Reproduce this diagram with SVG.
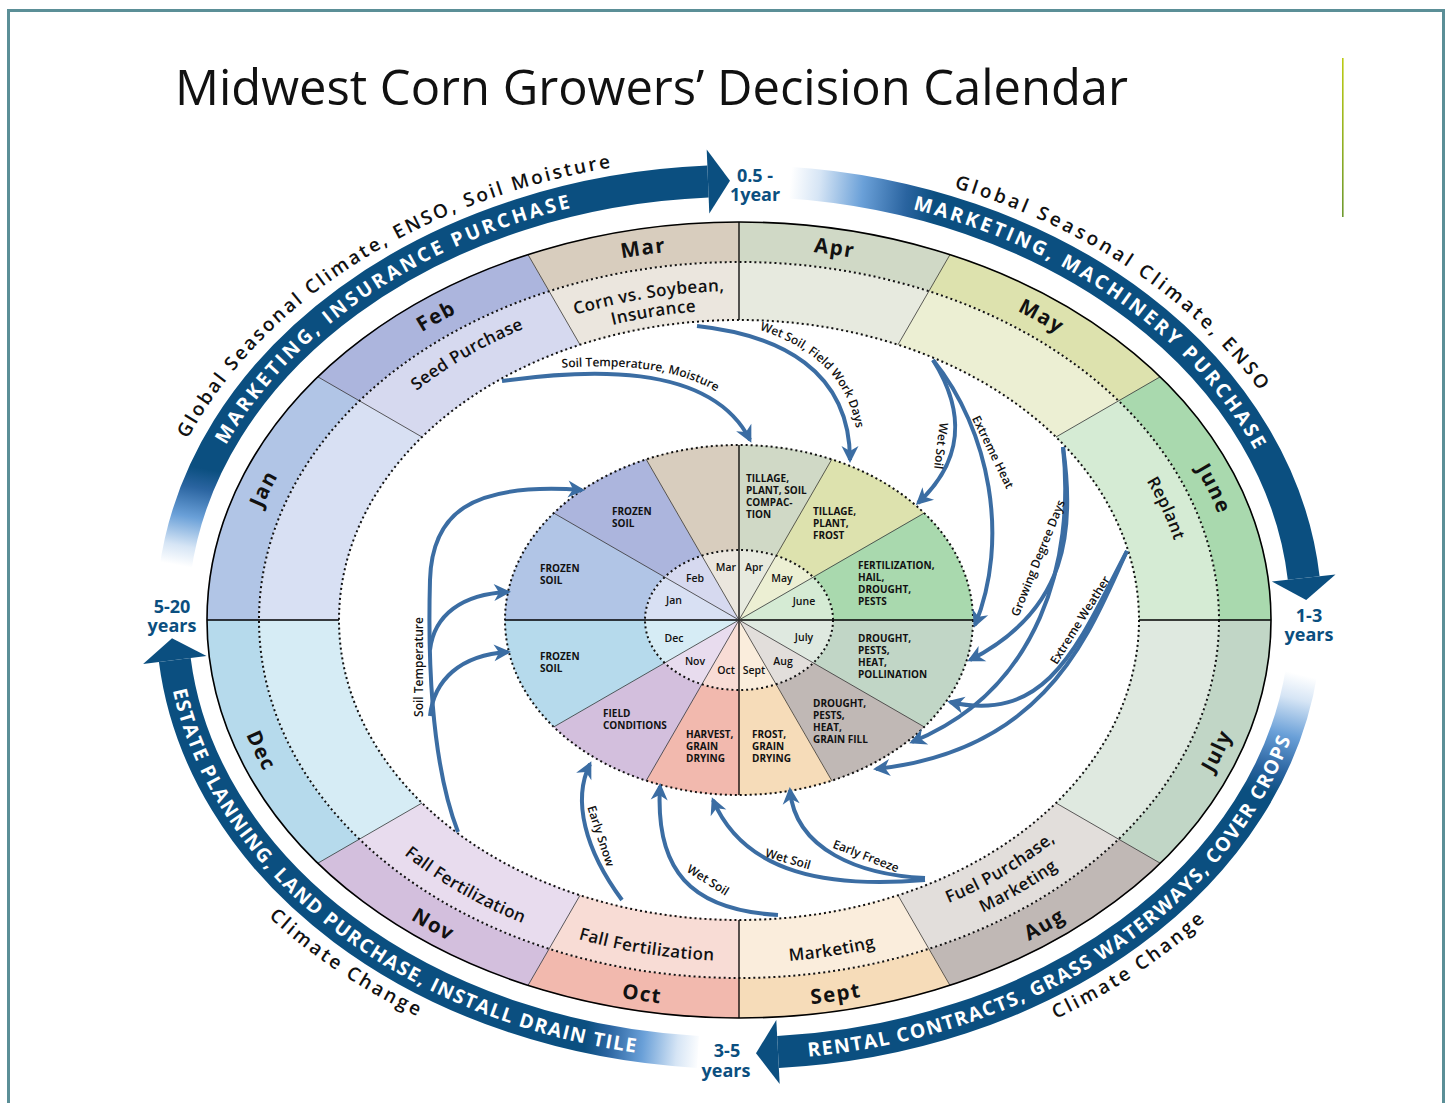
<svg xmlns="http://www.w3.org/2000/svg" width="1449" height="1103" viewBox="0 0 1449 1103">
<defs>
<style>
.t{font-family:"Open Sans","Noto Sans","DejaVu Sans",sans-serif}
.mh{font-size:20.5px;font-weight:700;letter-spacing:1.5px;fill:#111}
.lb{font-size:17px;font-weight:600;letter-spacing:.4px;fill:#111}
.sg{font-size:10px;font-weight:700;fill:#111}
.cm{font-size:10.5px;font-weight:600;fill:#111;text-anchor:middle}
.cl{font-size:12px;font-weight:600;fill:#111}
.bw{font-size:19.5px;font-weight:700;fill:#fff;letter-spacing:2px}
.bk{font-size:19px;font-weight:600;fill:#111;letter-spacing:2.5px}
.yr{font-size:18px;font-weight:700;fill:#0b4f80;text-anchor:middle}
.cn{fill:none;stroke:#3b6da3;stroke-width:4;marker-end:url(#ah)}
.band{fill:none;stroke-width:32}
.ahd{fill:#0b4f80}
.dot{fill:none;stroke:#111;stroke-width:2;stroke-dasharray:2 3}
.rl{stroke:#333;stroke-width:.8}
.rk{stroke:#000;stroke-width:1.3}
path.s{stroke-width:.6}
.h-mar{fill:#d8cdbe;stroke:#d8cdbe}.l-mar{fill:#ebe6de;stroke:#ebe6de}
.h-apr{fill:#d0d9c6;stroke:#d0d9c6}.l-apr{fill:#e7eadf;stroke:#e7eadf}
.h-may{fill:#dde2ae;stroke:#dde2ae}.l-may{fill:#ecefd3;stroke:#ecefd3}
.h-jun{fill:#a9d9ae;stroke:#a9d9ae}.l-jun{fill:#d5ebd4;stroke:#d5ebd4}
.h-jul{fill:#c1d6c6;stroke:#c1d6c6}.l-jul{fill:#dfe9e0;stroke:#dfe9e0}
.h-aug{fill:#c0b8b5;stroke:#c0b8b5}.l-aug{fill:#e2dedb;stroke:#e2dedb}
.h-sep{fill:#f6dcb9;stroke:#f6dcb9}.l-sep{fill:#faeddc;stroke:#faeddc}
.h-oct{fill:#f2b9ae;stroke:#f2b9ae}.l-oct{fill:#f8dcd5;stroke:#f8dcd5}
.h-nov{fill:#d3bfdd;stroke:#d3bfdd}.l-nov{fill:#e8dcee;stroke:#e8dcee}
.h-dec{fill:#b6daec;stroke:#b6daec}.l-dec{fill:#d6ecf5;stroke:#d6ecf5}
.h-jan{fill:#b1c5e6;stroke:#b1c5e6}.l-jan{fill:#d8e0f3;stroke:#d8e0f3}
.h-feb{fill:#acb5dd;stroke:#acb5dd}.l-feb{fill:#d6d9ef;stroke:#d6d9ef}
</style>
<marker id="ah" viewBox="-15 -9 19 18" markerWidth="19" markerHeight="18" refX="0" refY="0" orient="auto" markerUnits="userSpaceOnUse">
<path d="M3,0 L-14,-8.5 L-9,0 L-14,8.5 Z" fill="#3b6da3"/>
</marker>
<linearGradient id="vg" gradientUnits="userSpaceOnUse" x1="0" y1="58" x2="0" y2="217"><stop offset="0" stop-color="#bccb14"/><stop offset="1" stop-color="#6e9930"/></linearGradient>
<linearGradient id="g1" gradientUnits="userSpaceOnUse" x1="182" y1="566" x2="200" y2="468"><stop offset="0" stop-color="#fff"/><stop offset=".2" stop-color="#d6e5f5"/><stop offset=".5" stop-color="#6aa0d8"/><stop offset=".8" stop-color="#2a64a0"/><stop offset="1" stop-color="#0b4f80"/></linearGradient>
<linearGradient id="g2" gradientUnits="userSpaceOnUse" x1="790" y1="185" x2="935" y2="200"><stop offset="0" stop-color="#fff"/><stop offset=".2" stop-color="#d6e5f5"/><stop offset=".5" stop-color="#6aa0d8"/><stop offset=".8" stop-color="#2a64a0"/><stop offset="1" stop-color="#0b4f80"/></linearGradient>
<linearGradient id="g3" gradientUnits="userSpaceOnUse" x1="1302" y1="675" x2="1272" y2="795"><stop offset="0" stop-color="#fff"/><stop offset=".2" stop-color="#d6e5f5"/><stop offset=".5" stop-color="#6aa0d8"/><stop offset=".8" stop-color="#2a64a0"/><stop offset="1" stop-color="#0b4f80"/></linearGradient>
<linearGradient id="g4" gradientUnits="userSpaceOnUse" x1="700" y1="1052" x2="585" y2="1042"><stop offset="0" stop-color="#fff"/><stop offset=".2" stop-color="#d6e5f5"/><stop offset=".5" stop-color="#6aa0d8"/><stop offset=".8" stop-color="#2a64a0"/><stop offset="1" stop-color="#0b4f80"/></linearGradient>
<!-- month header label paths -->
<path id="hp-mar" d="M559.8,272.7 A500,372 0 0 1 730.3,248.1"/>
<path id="hp-apr" d="M747.7,248.1 A500,372 0 0 1 918.2,272.7"/>
<path id="hp-may" d="M966,288.5 A500,372 0 0 1 1104.7,366.3"/>
<path id="hp-jun" d="M1172,434 A500,372 0 0 1 1231.4,555.4"/>
<path id="hp-feb" d="M373.3,366.3 A500,372 0 0 1 512,288.5"/>
<path id="hp-jan" d="M246.6,555.4 A500,372 0 0 1 306,434"/>
<path id="hp-sep" d="M748,1007.9 A516,388 0 0 0 923.9,982.2"/>
<path id="hp-oct" d="M554.1,982.2 A516,388 0 0 0 730,1007.9"/>
<path id="hp-aug" d="M973.3,965.7 A516,388 0 0 0 1116.4,884.6"/>
<path id="hp-jul" d="M1185.9,814 A516,388 0 0 0 1247.2,687.4"/>
<path id="hp-nov" d="M361.6,884.6 A516,388 0 0 0 504.7,965.7"/>
<path id="hp-dec" d="M230.8,687.4 A516,388 0 0 0 292.1,814"/>
<!-- light band label paths -->
<path id="lp-mar1" d="M547,324.3 A438,329 0 0 1 754.3,291.2"/>
<path id="lp-mar2" d="M557.9,341.4 A413,310 0 0 1 753.4,310.2"/>
<path id="lp-feb" d="M389.1,415 A444,333 0 0 1 558.4,315.8"/>
<path id="lp-jun" d="M1130.8,458.1 A448,334 0 0 1 1181.5,567.8"/>
<path id="lp-nov" d="M363.8,817.3 A458,344 0 0 0 574.9,941.2"/>
<path id="lp-oct" d="M539.5,926.5 A455,341 0 0 0 754.9,960.8"/>
<path id="lp-sep" d="M723,962.8 A457,343 0 0 0 939.3,928.3"/>
<path id="lp-aug1" d="M900.8,920.4 A432,324 0 0 0 1092.9,805.8"/>
<path id="lp-aug2" d="M911.3,939.9 A460,345 0 0 0 1115.8,817.9"/>
<!-- outer band text paths -->
<path id="bp-t1" d="M191.3,527.8 A560,429 0 0 1 661.1,192.2"/>
<path id="bp-t2" d="M150.1,537.1 A598,460 0 0 1 718.1,157.3"/>
<path id="bp-t3" d="M816.9,192.2 A560,429 0 0 1 1290.5,542.5"/>
<path id="bp-t4" d="M780.7,158.1 A598,460 0 0 1 1331.2,553"/>
<path id="bp-t5" d="M709,1059.4 A574,443 0 0 0 1312.2,640.2"/>
<path id="bp-t6" d="M168.4,665.6 A574,443 0 0 0 662.1,1056"/>
<path id="bp-cc1" d="M165.6,779.3 A611,470 0 0 0 582.9,1071.3"/>
<path id="bp-cc2" d="M886.8,1073 A611,470 0 0 0 1313.2,777.7"/>
<!-- connector label paths -->
<path id="lbl1" d="M505,374 C583,363 712,352 756,432"/>
<path id="lbl2" d="M700,318 C786,327 858,364 858,452"/>
</defs>

<rect x="0" y="0" width="1449" height="1103" fill="#fff"/>
<rect x="8.5" y="10.5" width="1435" height="1110" fill="none" stroke="#5b8f97" stroke-width="3"/>
<rect x="1342" y="58" width="1.6" height="159" fill="url(#vg)"/>
<text class="t" x="175" y="105" font-size="50" textLength="953" lengthAdjust="spacingAndGlyphs" fill="#111">Midwest Corn Growers’ Decision Calendar</text>

<!-- outer time-horizon arrows -->
<g id="horizon-0-5-1yr">
<path class="band" stroke="url(#g1)" d="M175.1,571.4 A567,436 0 0 1 708,181.6"/>
<polygon class="ahd" points="706.7,149.6 730,180.7 709.3,213.6"/>
<text class="t bw"><textPath href="#bp-t1" startOffset="50%" text-anchor="middle" textLength="432" lengthAdjust="spacing">MARKETING, INSURANCE PURCHASE</textPath></text>
<text class="t bk"><textPath href="#bp-t2" startOffset="50%" text-anchor="middle" textLength="522" lengthAdjust="spacing">Global Seasonal Climate, ENSO, Soil Moisture</textPath></text>
<text class="t yr" x="755" y="182">0.5 -</text>
<text class="t yr" x="755" y="201">1year</text>
</g>
<g id="horizon-1-3yr">
<path class="band" stroke="url(#g2)" d="M785,182.4 A567,436 0 0 1 1303.7,578"/>
<polygon class="ahd" points="1271.9,581.6 1335.5,574.4 1306.2,600"/>
<text class="t bw"><textPath href="#bp-t3" startOffset="50%" text-anchor="middle" textLength="432" lengthAdjust="spacing">MARKETING, MACHINERY PURCHASE</textPath></text>
<text class="t bk"><textPath href="#bp-t4" startOffset="50%" text-anchor="middle" textLength="376" lengthAdjust="spacing">Global Seasonal Climate, ENSO</textPath></text>
<text class="t yr" x="1309" y="622">1-3</text>
<text class="t yr" x="1309" y="641">years</text>
</g>
<g id="horizon-3-5yr">
<path class="band" stroke="url(#g3)" d="M1301.8,670.1 A567,436 0 0 1 778,1052"/>
<polygon class="ahd" points="776.3,1020 756,1053.2 779.7,1084"/>
<text class="t bw"><textPath href="#bp-t5" startOffset="50%" text-anchor="middle" textLength="610" lengthAdjust="spacing">RENTAL CONTRACTS, GRASS WATERWAYS, COVER CROPS</textPath></text>
<text class="t bk"><textPath href="#bp-cc2" startOffset="50%" text-anchor="middle" textLength="182" lengthAdjust="spacing">Climate Change</textPath></text>
<text class="t yr" x="727" y="1057">3-5</text>
<text class="t yr" x="726" y="1077">years</text>
</g>
<g id="horizon-5-20yr">
<path class="band" stroke="url(#g4)" d="M698,1051.9 A567,436 0 0 1 174.8,660"/>
<polygon class="ahd" points="143.1,664.1 172,638.2 206.5,655.9"/>
<text class="t bw"><textPath href="#bp-t6" startOffset="50%" text-anchor="middle" textLength="626" lengthAdjust="spacing">ESTATE PLANNING, LAND PURCHASE, INSTALL DRAIN TILE</textPath></text>
<text class="t bk"><textPath href="#bp-cc1" startOffset="50%" text-anchor="middle" textLength="182" lengthAdjust="spacing">Climate Change</textPath></text>
<text class="t yr" x="172" y="613">5-20</text>
<text class="t yr" x="172" y="632">years</text>
</g>

<!-- months -->
<g id="month-apr">
<path class="s h-apr" d="M739,222 A532,398 0 0 1 950,254.6 L928.9,291.2 A480,358 0 0 0 739,262 Z"/>
<path class="s l-apr" d="M739,262 A480,358 0 0 1 928.9,291.2 L898,344.7 A400,300 0 0 0 739,320 Z"/>
<path class="s h-apr" d="M739,445 A234,175 0 0 1 831.8,459.3 L776.1,555.7 A94,70 0 0 0 739,550 Z"/>
<path class="s l-apr" d="M739,620 L739,550 A94,70 0 0 1 776.1,555.7 Z"/>
<text class="t mh"><textPath href="#hp-apr" startOffset="50%" text-anchor="middle">Apr</textPath></text>
<text class="t sg" x="746"><tspan x="746" y="482">TILLAGE,</tspan><tspan x="746" y="494">PLANT, SOIL</tspan><tspan x="746" y="506">COMPAC-</tspan><tspan x="746" y="518">TION</tspan></text>
<text class="t cm" x="754" y="571">Apr</text>
</g>
<g id="month-may">
<path class="s h-may" d="M950,254.6 A532,398 0 0 1 1160.2,376.8 L1118.6,400.9 A480,358 0 0 0 928.9,291.2 Z"/>
<path class="s l-may" d="M928.9,291.2 A480,358 0 0 1 1118.6,400.9 L1056,437 A400,300 0 0 0 898,344.7 Z"/>
<path class="s h-may" d="M831.8,459.3 A234,175 0 0 1 924.2,513.1 L813.3,577.1 A94,70 0 0 0 776.1,555.7 Z"/>
<path class="s l-may" d="M739,620 L776.1,555.7 A94,70 0 0 1 813.3,577.1 Z"/>
<text class="t mh"><textPath href="#hp-may" startOffset="50%" text-anchor="middle">May</textPath></text>
<text class="t sg"><tspan x="813" y="515">TILLAGE,</tspan><tspan x="813" y="527">PLANT,</tspan><tspan x="813" y="539">FROST</tspan></text>
<text class="t cm" x="782" y="582">May</text>
</g>
<g id="month-jun">
<path class="s h-jun" d="M1160.2,376.8 A532,398 0 0 1 1271,620 L1219,620 A480,358 0 0 0 1118.6,400.9 Z"/>
<path class="s l-jun" d="M1118.6,400.9 A480,358 0 0 1 1219,620 L1139,620 A400,300 0 0 0 1056,437 Z"/>
<path class="s h-jun" d="M924.2,513.1 A234,175 0 0 1 973,620 L833,620 A94,70 0 0 0 813.3,577.1 Z"/>
<path class="s l-jun" d="M739,620 L813.3,577.1 A94,70 0 0 1 833,620 Z"/>
<text class="t mh"><textPath href="#hp-jun" startOffset="50%" text-anchor="middle">June</textPath></text>
<text class="t lb"><textPath href="#lp-jun" startOffset="50%" text-anchor="middle">Replant</textPath></text>
<text class="t sg"><tspan x="858" y="569">FERTILIZATION,</tspan><tspan x="858" y="581">HAIL,</tspan><tspan x="858" y="593">DROUGHT,</tspan><tspan x="858" y="605">PESTS</tspan></text>
<text class="t cm" x="804" y="605">June</text>
</g>
<g id="month-jul">
<path class="s h-jul" d="M1271,620 A532,398 0 0 1 1160.2,863.2 L1118.6,839.2 A480,358 0 0 0 1219,620 Z"/>
<path class="s l-jul" d="M1219,620 A480,358 0 0 1 1118.6,839.2 L1056,803 A400,300 0 0 0 1139,620 Z"/>
<path class="s h-jul" d="M973,620 A234,175 0 0 1 924.2,726.9 L813.3,662.9 A94,70 0 0 0 833,620 Z"/>
<path class="s l-jul" d="M739,620 L833,620 A94,70 0 0 1 813.3,662.9 Z"/>
<text class="t mh"><textPath href="#hp-jul" startOffset="50%" text-anchor="middle">July</textPath></text>
<text class="t sg"><tspan x="858" y="642">DROUGHT,</tspan><tspan x="858" y="654">PESTS,</tspan><tspan x="858" y="666">HEAT,</tspan><tspan x="858" y="678">POLLINATION</tspan></text>
<text class="t cm" x="804" y="641">July</text>
</g>
<g id="month-aug">
<path class="s h-aug" d="M1160.2,863.2 A532,398 0 0 1 950,985.4 L928.9,948.8 A480,358 0 0 0 1118.6,839.2 Z"/>
<path class="s l-aug" d="M1118.6,839.2 A480,358 0 0 1 928.9,948.8 L898,895.3 A400,300 0 0 0 1056,803 Z"/>
<path class="s h-aug" d="M924.2,726.9 A234,175 0 0 1 831.8,780.7 L776.1,684.3 A94,70 0 0 0 813.3,662.9 Z"/>
<path class="s l-aug" d="M739,620 L813.3,662.9 A94,70 0 0 1 776.1,684.3 Z"/>
<text class="t mh"><textPath href="#hp-aug" startOffset="50%" text-anchor="middle">Aug</textPath></text>
<text class="t lb"><textPath href="#lp-aug1" startOffset="50%" text-anchor="middle">Fuel Purchase,</textPath></text>
<text class="t lb"><textPath href="#lp-aug2" startOffset="50%" text-anchor="middle">Marketing</textPath></text>
<text class="t sg"><tspan x="813" y="707">DROUGHT,</tspan><tspan x="813" y="719">PESTS,</tspan><tspan x="813" y="731">HEAT,</tspan><tspan x="813" y="743">GRAIN FILL</tspan></text>
<text class="t cm" x="783" y="665">Aug</text>
</g>
<g id="month-sep">
<path class="s h-sep" d="M950,985.4 A532,398 0 0 1 739,1018 L739,978 A480,358 0 0 0 928.9,948.8 Z"/>
<path class="s l-sep" d="M928.9,948.8 A480,358 0 0 1 739,978 L739,920 A400,300 0 0 0 898,895.3 Z"/>
<path class="s h-sep" d="M831.8,780.7 A234,175 0 0 1 739,795 L739,690 A94,70 0 0 0 776.1,684.3 Z"/>
<path class="s l-sep" d="M739,620 L776.1,684.3 A94,70 0 0 1 739,690 Z"/>
<text class="t mh"><textPath href="#hp-sep" startOffset="50%" text-anchor="middle">Sept</textPath></text>
<text class="t lb"><textPath href="#lp-sep" startOffset="50%" text-anchor="middle">Marketing</textPath></text>
<text class="t sg"><tspan x="752" y="738">FROST,</tspan><tspan x="752" y="750">GRAIN</tspan><tspan x="752" y="762">DRYING</tspan></text>
<text class="t cm" x="754" y="674">Sept</text>
</g>
<g id="month-oct">
<path class="s h-oct" d="M739,1018 A532,398 0 0 1 528,985.4 L549.1,948.8 A480,358 0 0 0 739,978 Z"/>
<path class="s l-oct" d="M739,978 A480,358 0 0 1 549.1,948.8 L580,895.3 A400,300 0 0 0 739,920 Z"/>
<path class="s h-oct" d="M739,795 A234,175 0 0 1 646.2,780.7 L701.9,684.3 A94,70 0 0 0 739,690 Z"/>
<path class="s l-oct" d="M739,620 L739,690 A94,70 0 0 1 701.9,684.3 Z"/>
<text class="t mh"><textPath href="#hp-oct" startOffset="50%" text-anchor="middle">Oct</textPath></text>
<text class="t lb"><textPath href="#lp-oct" startOffset="50%" text-anchor="middle">Fall Fertilization</textPath></text>
<text class="t sg"><tspan x="686" y="738">HARVEST,</tspan><tspan x="686" y="750">GRAIN</tspan><tspan x="686" y="762">DRYING</tspan></text>
<text class="t cm" x="726" y="674">Oct</text>
</g>
<g id="month-nov">
<path class="s h-nov" d="M528,985.4 A532,398 0 0 1 317.8,863.2 L359.4,839.2 A480,358 0 0 0 549.1,948.8 Z"/>
<path class="s l-nov" d="M549.1,948.8 A480,358 0 0 1 359.4,839.2 L422,803 A400,300 0 0 0 580,895.3 Z"/>
<path class="s h-nov" d="M646.2,780.7 A234,175 0 0 1 553.8,726.9 L664.7,662.9 A94,70 0 0 0 701.9,684.3 Z"/>
<path class="s l-nov" d="M739,620 L701.9,684.3 A94,70 0 0 1 664.7,662.9 Z"/>
<text class="t mh"><textPath href="#hp-nov" startOffset="50%" text-anchor="middle">Nov</textPath></text>
<text class="t lb"><textPath href="#lp-nov" startOffset="50%" text-anchor="middle">Fall Fertilization</textPath></text>
<text class="t sg"><tspan x="603" y="717">FIELD</tspan><tspan x="603" y="729">CONDITIONS</tspan></text>
<text class="t cm" x="695" y="665">Nov</text>
</g>
<g id="month-dec">
<path class="s h-dec" d="M317.8,863.2 A532,398 0 0 1 207,620 L259,620 A480,358 0 0 0 359.4,839.2 Z"/>
<path class="s l-dec" d="M359.4,839.2 A480,358 0 0 1 259,620 L339,620 A400,300 0 0 0 422,803 Z"/>
<path class="s h-dec" d="M553.8,726.9 A234,175 0 0 1 505,620 L645,620 A94,70 0 0 0 664.7,662.9 Z"/>
<path class="s l-dec" d="M739,620 L664.7,662.9 A94,70 0 0 1 645,620 Z"/>
<text class="t mh"><textPath href="#hp-dec" startOffset="50%" text-anchor="middle">Dec</textPath></text>
<text class="t sg"><tspan x="540" y="660">FROZEN</tspan><tspan x="540" y="672">SOIL</tspan></text>
<text class="t cm" x="674" y="642">Dec</text>
</g>
<g id="month-jan">
<path class="s h-jan" d="M207,620 A532,398 0 0 1 317.8,376.8 L359.4,400.9 A480,358 0 0 0 259,620 Z"/>
<path class="s l-jan" d="M259,620 A480,358 0 0 1 359.4,400.9 L422,437 A400,300 0 0 0 339,620 Z"/>
<path class="s h-jan" d="M505,620 A234,175 0 0 1 553.8,513.1 L664.7,577.1 A94,70 0 0 0 645,620 Z"/>
<path class="s l-jan" d="M739,620 L645,620 A94,70 0 0 1 664.7,577.1 Z"/>
<text class="t mh"><textPath href="#hp-jan" startOffset="50%" text-anchor="middle">Jan</textPath></text>
<text class="t sg"><tspan x="540" y="572">FROZEN</tspan><tspan x="540" y="584">SOIL</tspan></text>
<text class="t cm" x="674" y="604">Jan</text>
</g>
<g id="month-feb">
<path class="s h-feb" d="M317.8,376.8 A532,398 0 0 1 528,254.6 L549.1,291.2 A480,358 0 0 0 359.4,400.9 Z"/>
<path class="s l-feb" d="M359.4,400.9 A480,358 0 0 1 549.1,291.2 L580,344.7 A400,300 0 0 0 422,437 Z"/>
<path class="s h-feb" d="M553.8,513.1 A234,175 0 0 1 646.2,459.3 L701.9,555.7 A94,70 0 0 0 664.7,577.1 Z"/>
<path class="s l-feb" d="M739,620 L664.7,577.1 A94,70 0 0 1 701.9,555.7 Z"/>
<text class="t mh"><textPath href="#hp-feb" startOffset="50%" text-anchor="middle">Feb</textPath></text>
<text class="t lb"><textPath href="#lp-feb" startOffset="50%" text-anchor="middle">Seed Purchase</textPath></text>
<text class="t sg"><tspan x="612" y="515">FROZEN</tspan><tspan x="612" y="527">SOIL</tspan></text>
<text class="t cm" x="695" y="582">Feb</text>
</g>
<g id="month-mar">
<path class="s h-mar" d="M528,254.6 A532,398 0 0 1 739,222 L739,262 A480,358 0 0 0 549.1,291.2 Z"/>
<path class="s l-mar" d="M549.1,291.2 A480,358 0 0 1 739,262 L739,320 A400,300 0 0 0 580,344.7 Z"/>
<path class="s h-mar" d="M646.2,459.3 A234,175 0 0 1 739,445 L739,550 A94,70 0 0 0 701.9,555.7 Z"/>
<path class="s l-mar" d="M739,620 L701.9,555.7 A94,70 0 0 1 739,550 Z"/>
<text class="t mh"><textPath href="#hp-mar" startOffset="50%" text-anchor="middle">Mar</textPath></text>
<text class="t lb"><textPath href="#lp-mar1" startOffset="50%" text-anchor="middle">Corn vs. Soybean,</textPath></text>
<text class="t lb"><textPath href="#lp-mar2" startOffset="50%" text-anchor="middle">Insurance</textPath></text>
<text class="t cm" x="726" y="571">Mar</text>
</g>

<!-- ring grid -->
<g id="grid">
<line class="rk" x1="739" y1="320" x2="739" y2="222"/>
<line class="rl" x1="898" y1="344.7" x2="950" y2="254.6"/>
<line class="rl" x1="1056" y1="437" x2="1160.2" y2="376.8"/>
<line class="rk" x1="1139" y1="620" x2="1271" y2="620"/>
<line class="rl" x1="1056" y1="803" x2="1160.2" y2="863.2"/>
<line class="rl" x1="898" y1="895.3" x2="950" y2="985.4"/>
<line class="rk" x1="739" y1="920" x2="739" y2="1018"/>
<line class="rl" x1="580" y1="895.3" x2="528" y2="985.4"/>
<line class="rl" x1="422" y1="803" x2="317.8" y2="863.2"/>
<line class="rk" x1="339" y1="620" x2="207" y2="620"/>
<line class="rl" x1="422" y1="437" x2="317.8" y2="376.8"/>
<line class="rl" x1="580" y1="344.7" x2="528" y2="254.6"/>
<line class="rk" x1="739" y1="445" x2="739" y2="795"/>
<line class="rk" x1="505" y1="620" x2="973" y2="620"/>
<line class="rl" x1="831.8" y1="459.3" x2="646.2" y2="780.7"/>
<line class="rl" x1="924.2" y1="513.1" x2="553.8" y2="726.9"/>
<line class="rl" x1="924.2" y1="726.9" x2="553.8" y2="513.1"/>
<line class="rl" x1="831.8" y1="780.7" x2="646.2" y2="459.3"/>
<ellipse cx="739" cy="620" rx="532" ry="398" fill="none" stroke="#000" stroke-width="1.6"/>
<ellipse class="dot" cx="739" cy="620" rx="480" ry="358"/>
<ellipse class="dot" cx="739" cy="620" rx="400" ry="300"/>
<ellipse class="dot" cx="739" cy="620" rx="234" ry="175"/>
<ellipse class="dot" cx="739" cy="620" rx="94" ry="70"/>
</g>

<!-- connectors -->
<g id="connectors">
<path class="cn" d="M502,381 C580,370 710,360 750,440"/>
<path class="cn" d="M697,326 C780,335 850,370 850,460"/>
<path class="cn" d="M933,360 C955,395 975,450 918,503"/>
<path class="cn" d="M933,360 C990,430 1010,540 975,625"/>
<path class="cn" d="M1063,447 C1075,530 1068,610 970,660"/>
<path class="cn" d="M1063,447 C1075,560 1040,690 912,742"/>
<path class="cn" d="M1127,551 C1080,640 1050,725 950,702"/>
<path class="cn" d="M1127,551 C1090,630 1050,750 876,769"/>
<path class="cn" d="M458,832 C430,760 428,650 430,580 C432,515 468,482 582,490"/>
<path class="cn" d="M430,716 C434,680 460,655 508,652"/>
<path class="cn" d="M430,650 C434,615 462,594 508,592"/>
<path class="cn" d="M622,900 C585,850 572,800 590,764"/>
<path class="cn" d="M778,915 C690,910 655,870 660,786"/>
<path class="cn" d="M925,880 C830,888 745,875 713,800"/>
<path class="cn" d="M925,878 C860,875 795,850 790,790"/>
<text class="t cl"><textPath href="#lbl1" startOffset="50%" text-anchor="middle">Soil Temperature, Moisture</textPath></text>
<text class="t cl" font-size="11.5"><textPath href="#lbl2" startOffset="58%" text-anchor="middle">Wet Soil, Field Work Days</textPath></text>
<text class="t cl" font-size="11" text-anchor="middle" dy=".35em" transform="translate(941,446) rotate(97)">Wet Soil</text>
<text class="t cl" text-anchor="middle" dy=".35em" transform="translate(993,452) rotate(64)">Extreme Heat</text>
<text class="t cl" text-anchor="middle" dy=".35em" transform="translate(1038,558) rotate(-68)">Growing Degree Days</text>
<text class="t cl" text-anchor="middle" dy=".35em" transform="translate(1080,620) rotate(-58)">Extreme Weather</text>
<text class="t cl" text-anchor="middle" transform="translate(423,667) rotate(-90)">Soil Temperature</text>
<text class="t cl" font-size="11.5" text-anchor="middle" dy=".35em" transform="translate(601,836) rotate(72)">Early Snow</text>
<text class="t cl" font-size="11.5" text-anchor="middle" dy=".35em" transform="translate(708,880) rotate(32)">Wet Soil</text>
<text class="t cl" font-size="11" text-anchor="middle" dy=".35em" transform="translate(788,859) rotate(16)">Wet Soil</text>
<text class="t cl" font-size="11" text-anchor="middle" dy=".35em" transform="translate(866,856) rotate(21)">Early Freeze</text>
</g>
</svg>
